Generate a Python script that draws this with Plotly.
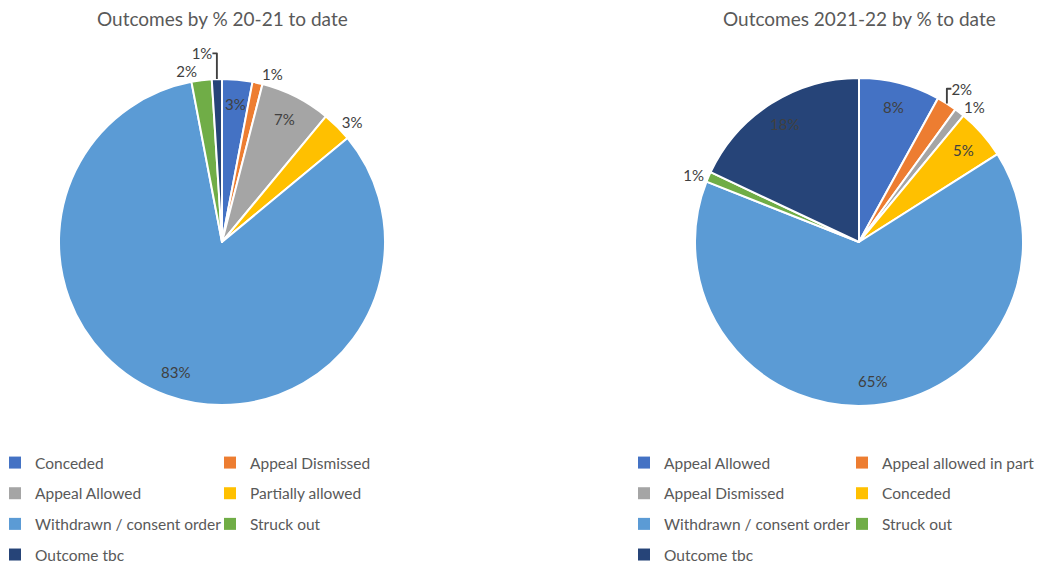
import math
import plotly.graph_objects as go

# ---------------- data ----------------
left_title = "Outcomes by % 20-21 to date"
left_labels = ["Conceded", "Appeal Dismissed", "Appeal Allowed", "Partially allowed",
               "Withdrawn / consent order", "Struck out", "Outcome tbc"]
left_values = [3, 1, 7, 3, 83, 2, 1]
left_inside = [True, False, True, False, True, False, False]

right_title = "Outcomes 2021-22 by % to date"
right_labels = ["Appeal Allowed", "Appeal allowed in part", "Appeal Dismissed", "Conceded",
                "Withdrawn / consent order", "Struck out", "Outcome tbc"]
right_values = [8, 2, 1, 5, 65, 1, 18]
right_inside = [True, False, False, True, True, False, True]

slice_colors = ["#4472C4", "#ED7D31", "#A5A5A5", "#FFC000", "#5B9BD5", "#70AD47", "#264478"]

# ---------------- layout helpers ----------------
W, H = 1049, 573          # browser window
OFF = 8                   # default page body margin
FW, FH = W - OFF, H - OFF  # figure size so it fits the window


def fx(px):
    return (px - OFF) / FW


def fy(py):
    return (FH - (py - OFF)) / FH


FONT = "Lato, 'Open Sans', sans-serif"
TXT = "#404040"
GREY = "#595959"
LABEL_R = 0.85  # radial position of inside labels (fraction of radius)

fig = go.Figure()

charts = [
    dict(labels=left_labels, values=left_values, inside=left_inside, title=left_title,
         x0=59, x1=385, legleft=(-5, 210), legend_ids=("legend", "legend2")),
    dict(labels=right_labels, values=right_values, inside=right_inside, title=right_title,
         x0=695, x1=1023, legleft=(624, 842), legend_ids=("legend3", "legend4")),
]
y0, y1 = 78, 406

# legend-only tiny pies (one per label, split into two columns like the original)
for c in charts:
    cx = fx((c["x0"] + c["x1"]) / 2)
    cy = fy((y0 + y1) / 2)
    for i, (lab, col) in enumerate(zip(c["labels"], slice_colors)):
        lid = c["legend_ids"][i % 2]
        fig.add_trace(go.Pie(
            labels=[lab], values=[1], marker=dict(colors=[col], line=dict(width=0)),
            domain=dict(x=[cx - 0.0002, cx + 0.0002], y=[cy - 0.0002, cy + 0.0002]),
            textinfo="none", hoverinfo="skip", sort=False,
            showlegend=True, legend=lid, legendgroup=c["title"] + lab,
        ))

annotations = []

# main pies
for c in charts:
    pos = ["none" if ins else "outside" for ins in c["inside"]]
    fig.add_trace(go.Pie(
        labels=c["labels"], values=c["values"], sort=False, direction="clockwise",
        rotation=0,
        marker=dict(colors=slice_colors, line=dict(color="white", width=2)),
        texttemplate="%{percent:.0%}", textposition=pos,
        textfont=dict(family=FONT, size=15, color=TXT),
        domain=dict(x=[fx(c["x0"]), fx(c["x1"])], y=[fy(y1), fy(y0)]),
        showlegend=False, hoverinfo="label+percent",
    ))
    # inside labels, placed along each slice's bisector (computed from the values)
    total = sum(c["values"])
    cxp = (c["x0"] + c["x1"]) / 2
    cyp = (y0 + y1) / 2
    r = min(c["x1"] - c["x0"], y1 - y0) / 2
    cum = 0
    for v, ins in zip(c["values"], c["inside"]):
        mid = (cum + v / 2) / total * 2 * math.pi
        cum += v
        if not ins:
            continue
        px = cxp + LABEL_R * r * math.sin(mid)
        py = cyp - LABEL_R * r * math.cos(mid)
        annotations.append(dict(
            text=f"{round(100 * v / total)}%", x=fx(px), y=fy(py), xref="paper", yref="paper",
            xanchor="center", yanchor="middle", showarrow=False,
            font=dict(family=FONT, size=15, color=TXT)))

for c in charts:
    annotations.append(dict(
        text=c["title"], x=fx((c["x0"] + c["x1"]) / 2), y=fy(19), xref="paper", yref="paper",
        xanchor="center", yanchor="middle", showarrow=False,
        font=dict(family=FONT, size=19, color=GREY)))

legend_common = dict(orientation="v", xanchor="left", yanchor="top", xref="paper", yref="paper",
                     font=dict(family=FONT, size=15.5, color=GREY), bgcolor="rgba(0,0,0,0)",
                     tracegroupgap=7.5, traceorder="grouped")

legends = {}
for c in charts:
    for k, lid in enumerate(c["legend_ids"]):
        legends[lid] = dict(legend_common, x=fx(c["legleft"][k]), y=fy(446))

fig.update_layout(
    width=FW, height=FH, margin=dict(l=0, r=0, t=0, b=0, autoexpand=False),
    paper_bgcolor="white", plot_bgcolor="white",
    annotations=annotations,
    **legends,
)

fig.write_html("out.html")
